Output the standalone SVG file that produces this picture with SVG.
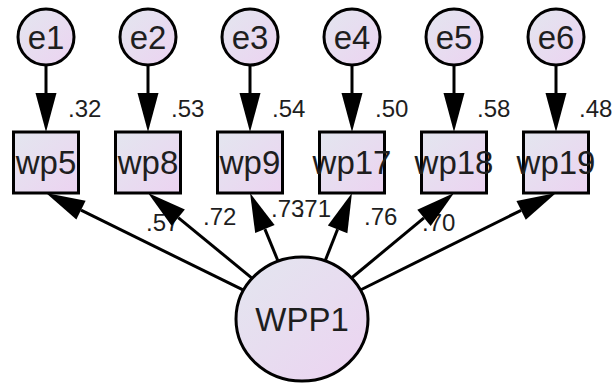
<svg xmlns="http://www.w3.org/2000/svg" width="613" height="383" viewBox="0 0 613 383">
  <style>
    .node { fill: url(#fillGrad); stroke: #000; stroke-width: 3; }
    .nlabel { font-family: "Liberation Sans", Arial, sans-serif; font-size: 33px; fill: #1e1e1e; text-anchor: middle; }
    .elabel { font-family: "Liberation Sans", Arial, sans-serif; font-size: 24px; fill: #1e1e1e; }
    .edge { stroke: #000; stroke-width: 3; fill: none; marker-end: url(#arrow); }
  </style>
  <defs>
    <linearGradient id="fillGrad" x1="0" y1="0" x2="1" y2="1">
      <stop offset="0" stop-color="#e3e6ef"/>
      <stop offset="1" stop-color="#ecd3f1"/>
    </linearGradient>
    <marker id="arrow" markerUnits="userSpaceOnUse" markerWidth="40" markerHeight="21" refX="0" refY="10.5" orient="auto" overflow="visible">
      <path d="M0,0 L39,10.5 L0,21 z" fill="#000"/>
    </marker>
  </defs>

  <!-- path coefficients and squared multiple correlations (drawn under the arrows) -->
  <g id="labels">
    <text class="elabel" x="68" y="117">.32</text>
    <text class="elabel" x="171" y="117">.53</text>
    <text class="elabel" x="272" y="117">.54</text>
    <text class="elabel" x="375" y="117">.50</text>
    <text class="elabel" x="477" y="117">.58</text>
    <text class="elabel" x="579" y="117">.48</text>
    <text class="elabel" x="146" y="231">.57</text>
    <text class="elabel" x="203" y="225">.72</text>
    <text class="elabel" x="271" y="217">.73</text>
    <text class="elabel" x="297.7" y="217">.71</text>
    <text class="elabel" x="364" y="225">.76</text>
    <text class="elabel" x="422" y="231">.70</text>
  </g>

  <!-- connectors -->
  <g id="connectors">
    <line class="edge" x1="46" y1="66" x2="46" y2="93"/>
    <line class="edge" x1="148" y1="66" x2="148" y2="93"/>
    <line class="edge" x1="250" y1="66" x2="250" y2="93"/>
    <line class="edge" x1="352" y1="66" x2="352" y2="93"/>
    <line class="edge" x1="454" y1="66" x2="454" y2="93"/>
    <line class="edge" x1="556" y1="66" x2="556" y2="93"/>
    <line class="edge" x1="243.5" y1="290.2" x2="81.0" y2="210.2"/>
    <line class="edge" x1="252.2" y1="278.3" x2="178.2" y2="217.7"/>
    <line class="edge" x1="278.1" y1="261.2" x2="264.9" y2="229.1"/>
    <line class="edge" x1="325.1" y1="260.9" x2="337.6" y2="229.3"/>
    <line class="edge" x1="351.5" y1="278.0" x2="424.0" y2="217.9"/>
    <line class="edge" x1="360.4" y1="290.0" x2="521.1" y2="210.3"/>
  </g>

  <!-- error terms -->
  <g id="e1"><circle class="node" cx="46" cy="37" r="28"/><text class="nlabel" x="46" y="49">e1</text></g>
  <g id="e2"><circle class="node" cx="148" cy="37" r="28"/><text class="nlabel" x="148" y="49">e2</text></g>
  <g id="e3"><circle class="node" cx="250" cy="37" r="28"/><text class="nlabel" x="250" y="49">e3</text></g>
  <g id="e4"><circle class="node" cx="352" cy="37" r="28"/><text class="nlabel" x="352" y="49">e4</text></g>
  <g id="e5"><circle class="node" cx="454" cy="37" r="28"/><text class="nlabel" x="454" y="49">e5</text></g>
  <g id="e6"><circle class="node" cx="556" cy="37" r="28"/><text class="nlabel" x="556" y="49">e6</text></g>

  <!-- observed indicators -->
  <g id="wp5"><rect class="node" x="13.5" y="132" width="65" height="61"/><text class="nlabel" x="46" y="174">wp5</text></g>
  <g id="wp8"><rect class="node" x="115.5" y="132" width="65" height="61"/><text class="nlabel" x="148" y="174">wp8</text></g>
  <g id="wp9"><rect class="node" x="217.5" y="132" width="65" height="61"/><text class="nlabel" x="250" y="174">wp9</text></g>
  <g id="wp17"><rect class="node" x="319.5" y="132" width="65" height="61"/><text class="nlabel" x="352" y="174">wp17</text></g>
  <g id="wp18"><rect class="node" x="421.5" y="132" width="65" height="61"/><text class="nlabel" x="454" y="174">wp18</text></g>
  <g id="wp19"><rect class="node" x="523.5" y="132" width="65" height="61"/><text class="nlabel" x="556" y="174">wp19</text></g>

  <!-- latent factor -->
  <g id="WPP1"><ellipse class="node" cx="302" cy="319" rx="66" ry="62"/><text class="nlabel" x="302" y="331">WPP1</text></g>
</svg>
